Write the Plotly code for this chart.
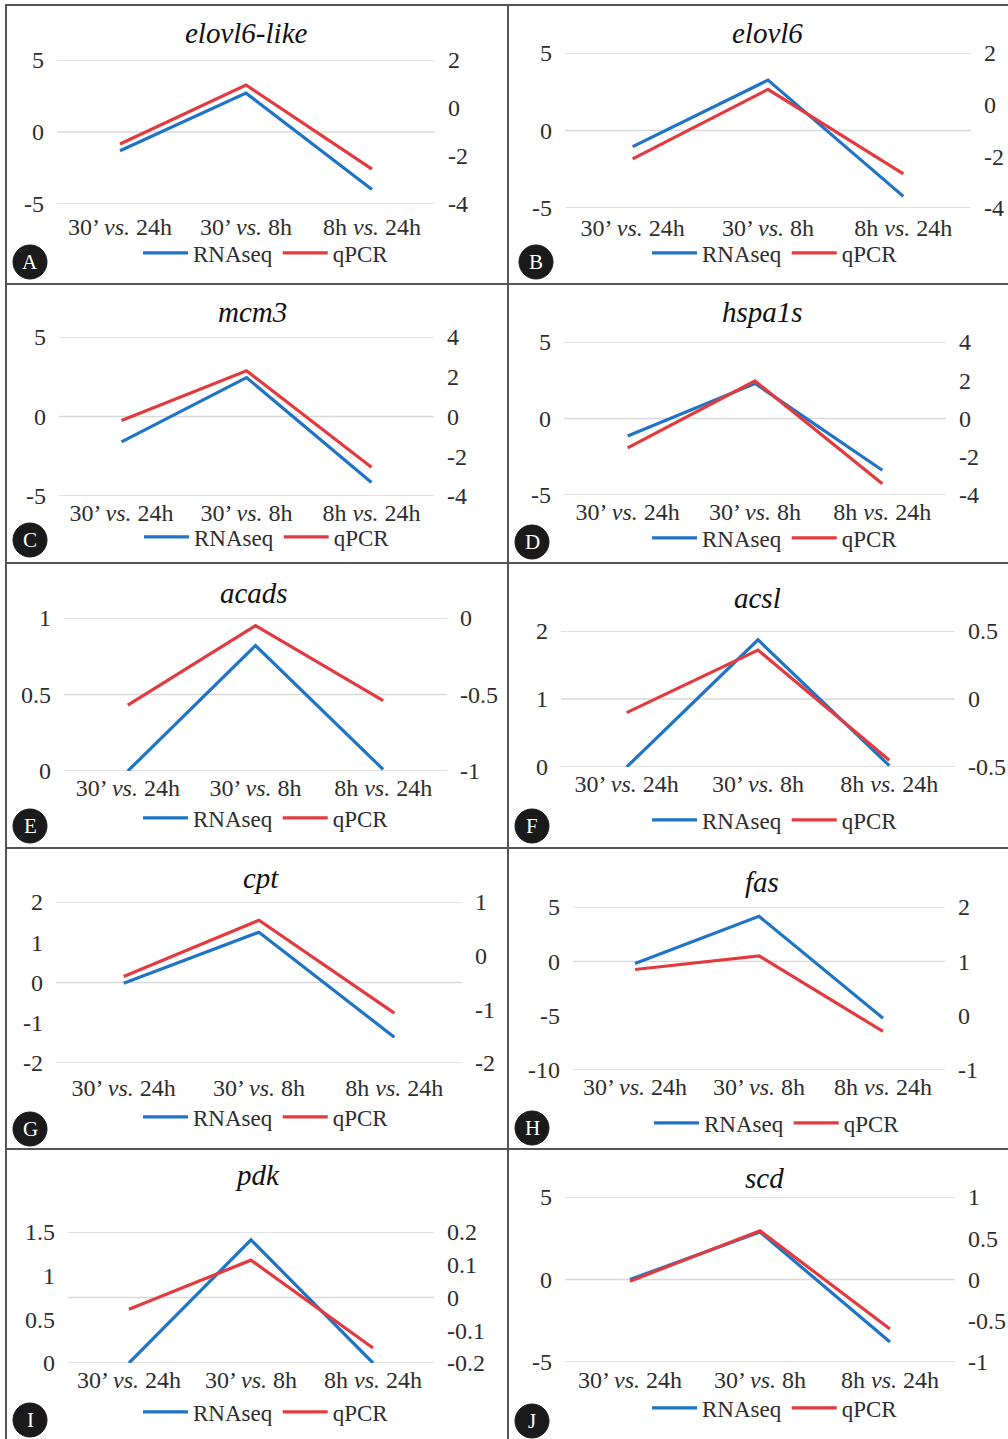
import plotly.graph_objects as go

# ---- data -------------------------------------------------------------
categories = ["30' vs. 24h", "30' vs. 8h", "8h vs. 24h"]
category_labels = ["30’ <i>vs.</i> 24h", "30’ <i>vs.</i> 8h", "8h <i>vs.</i> 24h"]

genes = ["elovl6-like", "elovl6", "mcm3", "hspa1s", "acads",
         "acsl", "cpt", "fas", "pdk", "scd"]
panel_letters = ["A", "B", "C", "D", "E", "F", "G", "H", "I", "J"]

# RNAseq (left axis) and qPCR (right axis) per gene
elovl6_like_rnaseq = [-1.3, 2.7, -4.0]
elovl6_like_qpcr = [-1.5, 0.96, -2.55]
elovl6_rnaseq = [-1.04, 3.25, -4.25]
elovl6_qpcr = [-2.1, 0.59, -2.68]
mcm3_rnaseq = [-1.6, 2.45, -4.15]
mcm3_qpcr = [-0.2, 2.3, -2.55]
hspa1s_rnaseq = [-1.14, 2.29, -3.38]
hspa1s_qpcr = [-1.54, 1.96, -3.41]
acads_rnaseq = [0.0, 0.82, 0.01]
acads_qpcr = [-0.57, -0.05, -0.54]
acsl_rnaseq = [0.0, 1.87, 0.02]
acsl_qpcr = [-0.1, 0.36, -0.45]
cpt_rnaseq = [-0.02, 1.25, -1.36]
cpt_qpcr = [-0.39, 0.66, -1.07]
fas_rnaseq = [-0.2, 4.15, -5.23]
fas_qpcr = [0.85, 1.10, -0.29]
pdk_rnaseq = [0.0, 1.41, 0.0]
pdk_qpcr = [-0.036, 0.114, -0.154]
scd_rnaseq = [0.0, 2.88, -3.79]
scd_qpcr = [-0.02, 0.59, -0.6]

rnaseq_series = [elovl6_like_rnaseq, elovl6_rnaseq, mcm3_rnaseq, hspa1s_rnaseq,
                 acads_rnaseq, acsl_rnaseq, cpt_rnaseq, fas_rnaseq,
                 pdk_rnaseq, scd_rnaseq]
qpcr_series = [elovl6_like_qpcr, elovl6_qpcr, mcm3_qpcr, hspa1s_qpcr,
               acads_qpcr, acsl_qpcr, cpt_qpcr, fas_qpcr,
               pdk_qpcr, scd_qpcr]

# axis scales: (min, max, step) for the left and right value axes
left_scales = [(-5, 5, 5), (-5, 5, 5), (-5, 5, 5), (-5, 5, 5), (0, 1, 0.5),
               (0, 2, 1), (-2, 2, 1), (-10, 5, 5), (0, 1.5, 0.5), (-5, 5, 5)]
right_scales = [(-4, 2, 2), (-4, 2, 2), (-4, 4, 2), (-4, 4, 2), (-1, 0, 0.5),
                (-0.5, 0.5, 0.5), (-2, 1, 1), (-1, 2, 1), (-0.2, 0.2, 0.1),
                (-1, 1, 0.5)]
# horizontal guide lines (left-axis units)
grid_levels = [[5, 0, -5], [5, 0, -5], [5, 0, -5], [5, 0, -5], [1, 0.5, 0],
               [2, 1, 0], [2, 0, -2], [5, 0, -10], [1.5, 0.75, 0], [5, 0, -5]]

# ---- layout geometry (pixels) -------------------------------------------
W, H = 1008, 1439
# plot areas: (left, right, top, bottom)
plot_boxes = [
    (57, 435, 60, 204), (565, 971, 53, 208),
    (59, 434, 337, 496), (564, 946, 342, 495),
    (64, 447, 618, 771), (561, 955, 631, 767),
    (56, 462, 902, 1063), (573, 945, 907, 1070),
    (68, 434, 1232, 1363), (565, 955, 1197, 1362),
]
xlabel_gap = [6, 3, 0, 0, 0, 0, 8, 0, 0, 1]
title_pos = [(246, 33), (767, 33), (252, 312), (762, 312), (254, 593),
             (757, 598), (261, 878), (762, 882), (257, 1175), (764, 1178)]
legend_pos = [(266, 253), (775, 253), (267, 537), (775, 538), (266, 818),
              (775, 820), (266, 1117), (777, 1123), (266, 1412), (775, 1408)]
badge_pos = [(30, 262), (536, 262), (30, 540), (532, 542), (30, 826),
             (532, 826), (30, 1129), (532, 1128), (30, 1420), (532, 1421)]

BLUE = "#1f74c6"
RED = "#e23b3f"
FONT = "Liberation Serif"
TICK_COLOR = "#2e2e2e"
TICK_SIZE = 24


def fx(px):
    return px / W


def fy(py):
    return 1 - py / H


def ticks(lo, hi, step):
    n = int(round((hi - lo) / step))
    return [round(lo + k * step, 6) for k in range(n + 1)]


def fmt(v):
    return ("%g" % v)


fig = go.Figure()
layout = dict(
    width=W, height=H,
    margin=dict(l=0, r=0, t=0, b=0, autoexpand=False),
    paper_bgcolor="white", plot_bgcolor="white",
    font=dict(family=FONT, color=TICK_COLOR, size=TICK_SIZE),
    shapes=[], annotations=[],
)

for i in range(10):
    xk = "" if i == 0 else str(i + 1)
    yl_n, yr_n = 2 * i + 1, 2 * i + 2
    yl = "" if yl_n == 1 else str(yl_n)
    yr = str(yr_n)
    leg = "legend" if i == 0 else "legend%d" % (i + 1)
    left, right, top, bottom = plot_boxes[i]

    fig.add_trace(go.Scatter(
        x=categories, y=rnaseq_series[i], name="RNAseq", mode="lines",
        line=dict(color=BLUE, width=3.2), xaxis="x" + xk, yaxis="y" + yl,
        legend=leg, hoverinfo="skip"))
    fig.add_trace(go.Scatter(
        x=categories, y=qpcr_series[i], name="qPCR", mode="lines",
        line=dict(color=RED, width=3.2), xaxis="x" + xk, yaxis="y" + yr,
        legend=leg, hoverinfo="skip"))

    layout["xaxis" + xk] = dict(
        domain=[fx(left), fx(right)], anchor="y" + yl,
        type="category", categoryorder="array", categoryarray=categories,
        range=[-0.5, 2.5], tickmode="array", tickvals=categories,
        ticktext=category_labels, showgrid=False, zeroline=False,
        showline=False, ticks="", ticklabelstandoff=xlabel_gap[i],
        automargin=False,
        tickfont=dict(family=FONT, size=TICK_SIZE, color=TICK_COLOR),
        fixedrange=True)

    lo, hi, st = left_scales[i]
    lv = ticks(lo, hi, st)
    layout["yaxis" + yl] = dict(
        domain=[fy(bottom), fy(top)], anchor="x" + xk, range=[lo, hi],
        tickmode="array", tickvals=lv, ticktext=[fmt(v) for v in lv],
        showgrid=False, zeroline=False, showline=False, ticks="",
        ticklabelstandoff=12, automargin=False,
        tickfont=dict(family=FONT, size=TICK_SIZE, color=TICK_COLOR),
        fixedrange=True)

    lo2, hi2, st2 = right_scales[i]
    rv = ticks(lo2, hi2, st2)
    layout["yaxis" + yr] = dict(
        overlaying="y" + yl, anchor="x" + xk, side="right", range=[lo2, hi2],
        tickmode="array", tickvals=rv, ticktext=[fmt(v) for v in rv],
        showgrid=False, zeroline=False, showline=False, ticks="",
        ticklabelstandoff=12, automargin=False,
        tickfont=dict(family=FONT, size=TICK_SIZE, color=TICK_COLOR),
        fixedrange=True)

    # horizontal guide lines
    for g in grid_levels[i]:
        layout["shapes"].append(dict(
            type="line", layer="below", xref="x" + xk + " domain",
            yref="y" + yl, x0=0, x1=1, y0=g, y1=g,
            line=dict(color="#d9d9d9", width=1.3)))

    # per-panel legend
    lx, ly = legend_pos[i]
    layout[leg] = dict(
        orientation="h", x=fx(lx), y=fy(ly), xanchor="center",
        yanchor="middle", bgcolor="rgba(0,0,0,0)", borderwidth=0,
        font=dict(family=FONT, size=23, color=TICK_COLOR),
        itemwidth=45, tracegroupgap=0)

    # gene title
    tx, ty = title_pos[i]
    layout["annotations"].append(dict(
        text="<i>%s</i>" % genes[i], x=fx(tx), y=fy(ty), xref="paper",
        yref="paper", showarrow=False, xanchor="center", yanchor="middle",
        font=dict(family=FONT, size=29, color="#111111")))

    # panel letter badge
    bx, by = badge_pos[i]
    r = 17
    layout["shapes"].append(dict(
        type="circle", xref="paper", yref="paper",
        x0=fx(bx - r), x1=fx(bx + r), y0=fy(by + r), y1=fy(by - r),
        fillcolor="#1a1a1a", line=dict(color="#1a1a1a", width=1)))
    layout["annotations"].append(dict(
        text=panel_letters[i], x=fx(bx), y=fy(by), xref="paper",
        yref="paper", showarrow=False, xanchor="center", yanchor="middle",
        font=dict(family=FONT, size=21, color="white")))

# panel frame lines
frame = dict(color="#555555", width=2)
for yline in [5, 284, 563, 848, 1149]:
    layout["shapes"].append(dict(type="line", xref="paper", yref="paper",
                                 x0=fx(5), x1=1, y0=fy(yline), y1=fy(yline),
                                 line=frame))
for xline in [6, 508]:
    layout["shapes"].append(dict(type="line", xref="paper", yref="paper",
                                 x0=fx(xline), x1=fx(xline), y0=0, y1=fy(5),
                                 line=frame))

fig.update_layout(**layout)
fig.write_html("out.html")
